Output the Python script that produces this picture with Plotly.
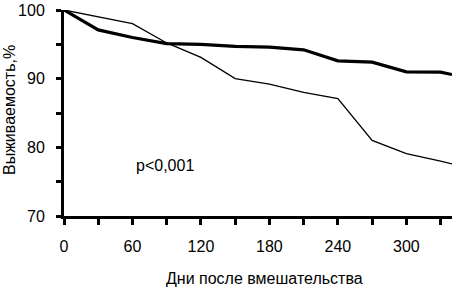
import plotly.graph_objects as go

days = [0, 30, 60, 90, 120, 150, 180, 210, 240, 270, 300, 330, 340]
thick_vals = [100, 97.1, 96.0, 95.1, 95.0, 94.7, 94.6, 94.2, 92.6, 92.4, 91.0, 90.95, 90.6]
thin_vals = [100, 99.0, 98.0, 95.2, 93.1, 90.0, 89.2, 88.0, 87.1, 81.0, 79.1, 78.0, 77.6]

x_tickvals = [0, 30, 60, 90, 120, 150, 180, 210, 240, 270, 300, 330]
x_ticktext = ["0", "", "60", "", "120", "", "180", "", "240", "", "300", ""]
y_tickvals = [70, 75, 80, 85, 90, 95, 100]
y_ticktext = ["70", "", "80", "", "90", "", "100"]

font = "Liberation Sans, Arial, sans-serif"

W, H = 452, 288
L, R, T, B = 64, 0, 10, 72
pw, ph = W - L - R, H - T - B


def px_to_paper(x, y):
    return (x - L) / pw, (H - B - y) / ph


fig = go.Figure()
fig.add_trace(go.Scatter(x=days, y=thin_vals, mode="lines",
                         line=dict(color="black", width=1.3), showlegend=False))
fig.add_trace(go.Scatter(x=days, y=thick_vals, mode="lines",
                         line=dict(color="black", width=3.2), showlegend=False))

anns = []
for text, px, py, ang in [("p<0,001", 165, 165, 0),
                          ("Дни после вмешательства", 264, 278, 0),
                          ("Выживаемость,%", 9, 110, -90)]:
    ax, ay = px_to_paper(px, py)
    anns.append(dict(text=text, x=ax, y=ay, xref="paper", yref="paper",
                     xanchor="center", yanchor="middle", showarrow=False,
                     textangle=ang, font=dict(size=16)))

fig.update_layout(
    width=W, height=H,
    margin=dict(l=L, r=R, t=T, b=B, autoexpand=False),
    paper_bgcolor="white", plot_bgcolor="white",
    font=dict(family=font, size=16, color="black"),
    xaxis=dict(range=[0, 340], showgrid=False, zeroline=False,
               showline=True, linecolor="black", linewidth=3,
               ticks="outside", ticklen=6, tickwidth=3, tickcolor="black",
               tickvals=x_tickvals, ticktext=x_ticktext,
               ticklabelstandoff=8),
    yaxis=dict(range=[70, 100], showgrid=False, zeroline=False,
               showline=True, linecolor="black", linewidth=3,
               ticks="outside", ticklen=5, tickwidth=3, tickcolor="black",
               tickvals=y_tickvals, ticktext=y_ticktext,
               ticklabelstandoff=8),
    annotations=anns,
)

fig.write_html("out.html", config={"displayModeBar": False},
               post_script="document.body.style.margin='0';document.body.style.overflow='hidden';")
